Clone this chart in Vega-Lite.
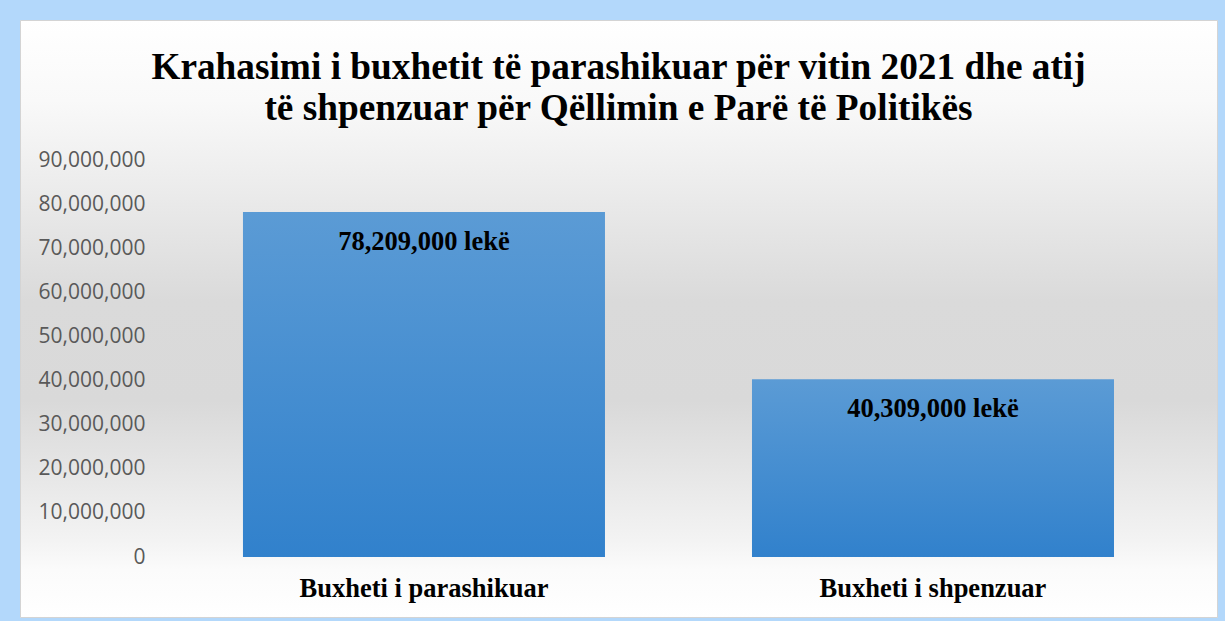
{
  "$schema": "https://vega.github.io/schema/vega-lite/v6.json",
  "autosize": {"type": "none"},
  "width": 1197,
  "height": 597,
  "padding": {"left": 20, "top": 20, "right": 8, "bottom": 4},
  "background": "#b3d8fb",
  "title": {
    "text": ["Krahasimi i buxhetit të parashikuar për vitin 2021 dhe atij", "të shpenzuar për Qëllimin e Parë të Politikës"],
    "font": "Liberation Serif",
    "fontSize": 37.3,
    "fontWeight": "bold",
    "color": "#000000",
    "lineHeight": 41,
    "anchor": "middle",
    "frame": "group",
    "offset": -108
  },
  "data": {
    "values": [
      {"category": "Buxheti i parashikuar", "value": 78209000, "label": "78,209,000 lekë"},
      {"category": "Buxheti i shpenzuar", "value": 40309000, "label": "40,309,000 lekë"}
    ]
  },
  "encoding": {
    "x": {
      "field": "category",
      "type": "nominal",
      "sort": null,
      "scale": {"paddingInner": 0.2888, "paddingOuter": 0.3202, "align": 0.684},
      "axis": {
        "orient": "bottom",
        "offset": -60,
        "labelPadding": 39,
        "labelBaseline": "alphabetic",
        "labelFont": "Liberation Serif",
        "labelFontSize": 26.5,
        "labelFontWeight": "bold",
        "labelColor": "#000000",
        "labelAngle": 0,
        "labelLimit": 0,
        "domain": false,
        "ticks": false,
        "tickSize": 0,
        "grid": false,
        "title": null
      }
    },
    "y": {
      "field": "value",
      "type": "quantitative",
      "scale": {"domain": [-13602015, 121738035], "nice": false, "zero": false},
      "axis": {
        "values": [0, 10000000, 20000000, 30000000, 40000000, 50000000, 60000000, 70000000, 80000000, 90000000],
        "format": ",.0f",
        "labelFont": "Open Sans",
        "labelFontSize": 21,
        "labelColor": "#595959",
        "grid": false,
        "domain": false,
        "ticks": false,
        "tickSize": 0,
        "labelPadding": 0,
        "offset": -125,
        "title": null
      }
    }
  },
  "layer": [
    {
      "mark": {
        "type": "bar",
        "color": {
          "gradient": "linear",
          "x1": 0, "y1": 0, "x2": 0, "y2": 1,
          "stops": [{"offset": 0, "color": "#5b9bd5"}, {"offset": 1, "color": "#3181cc"}]
        }
      },
      "encoding": {"y2": {"datum": 0}}
    },
    {
      "mark": {
        "type": "text",
        "font": "Liberation Serif",
        "fontSize": 26.5,
        "fontWeight": "bold",
        "color": "#000000",
        "baseline": "alphabetic",
        "dy": 38
      },
      "encoding": {"text": {"field": "label"}}
    }
  ],
  "config": {
    "view": {
      "fill": {
        "gradient": "linear",
        "x1": 0, "y1": 0, "x2": 0, "y2": 1,
        "stops": [
          {"offset": 0, "color": "#ffffff"},
          {"offset": 0.134, "color": "#f9f9f9"},
          {"offset": 0.235, "color": "#f0f0f0"},
          {"offset": 0.47, "color": "#dadada"},
          {"offset": 0.637, "color": "#d9d9d9"},
          {"offset": 0.72, "color": "#e2e2e2"},
          {"offset": 0.871, "color": "#f3f3f3"},
          {"offset": 0.92, "color": "#fbfbfb"},
          {"offset": 1, "color": "#ffffff"}
        ]
      },
      "stroke": "#d4d4d4",
      "strokeWidth": 1
    }
  }
}
